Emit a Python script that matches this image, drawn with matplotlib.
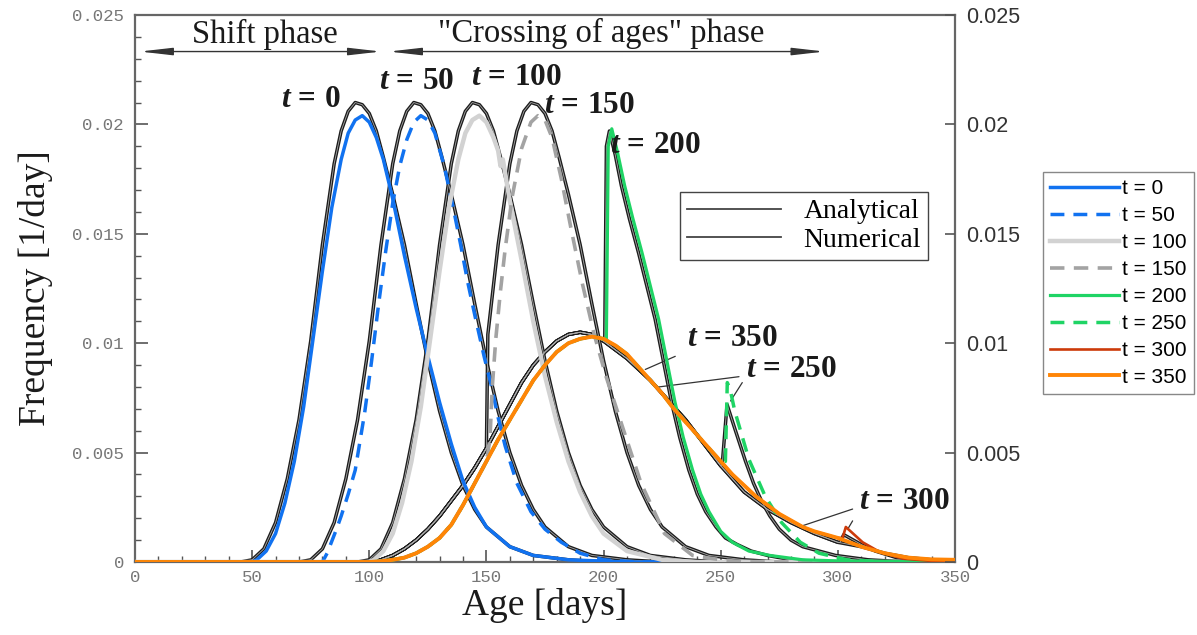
import matplotlib
matplotlib.use('Agg')
import matplotlib.pyplot as plt
import numpy as np
from matplotlib.ticker import MultipleLocator
from matplotlib.lines import Line2D

plt.rcParams['mathtext.fontset'] = 'custom'
plt.rcParams['mathtext.rm'] = 'Liberation Serif'
plt.rcParams['mathtext.it'] = 'Liberation Serif:italic'
plt.rcParams['mathtext.bf'] = 'Liberation Serif:bold'
plt.rcParams['mathtext.bfit'] = 'Liberation Serif:italic:bold'

# ---- data (age in days, frequency in 1/day) ----
# analytical curves
AGE_T0_AN = [0, 45, 50, 55, 60, 65, 70, 75, 80, 85, 88, 91, 94, 97, 100, 103, 106, 110, 115, 120,
             125, 130, 135, 140, 145, 150, 160, 170, 185, 200, 350]
FREQ_T0_AN = [0, 0, 0.0001, 0.0006, 0.0018, 0.0038, 0.0065, 0.0101, 0.0145, 0.0182, 0.0197, 0.0206,
              0.0210, 0.0209, 0.0205, 0.0197, 0.0185, 0.0168, 0.0145, 0.0118, 0.0092, 0.0069, 0.0050,
              0.0035, 0.0024, 0.0016, 0.0007, 0.0003, 0.0001, 0, 0]
AGE_T50_AN = [0, 70, 75, 80, 85, 90, 95, 100, 105, 110, 113, 116, 119, 122, 125, 128, 131, 135, 140, 145,
              150, 155, 160, 165, 170, 175, 185, 195, 210, 225, 350]
FREQ_T50_AN = [0, 0, 0.0001, 0.0006, 0.0018, 0.0038, 0.0065, 0.0101, 0.0145, 0.0182, 0.0197, 0.0206,
               0.0210, 0.0209, 0.0205, 0.0197, 0.0185, 0.0168, 0.0145, 0.0118, 0.0092, 0.0069, 0.0050,
               0.0035, 0.0024, 0.0016, 0.0007, 0.0003, 0.0001, 0, 0]
AGE_T100_AN = [0, 95, 100, 105, 110, 115, 120, 125, 130, 135, 138, 141, 144, 147, 150, 153, 156, 160, 165,
               170, 175, 180, 185, 190, 195, 200, 210, 220, 235, 250, 350]
FREQ_T100_AN = [0, 0, 0.0001, 0.0006, 0.0018, 0.0038, 0.0065, 0.0101, 0.0145, 0.0182, 0.0197, 0.0206,
                0.0210, 0.0209, 0.0205, 0.0197, 0.0185, 0.0168, 0.0145, 0.0118, 0.0092, 0.0069, 0.0050,
                0.0035, 0.0024, 0.0016, 0.0007, 0.0003, 0.0001, 0, 0]
# t = 350 analytical (later curves follow it below their own age t)
AGE_T350_AN = [0, 95, 100, 105, 110, 115, 120, 125, 130, 135, 140, 145, 150, 155, 160, 165, 170, 175,
               180, 185, 190, 195, 200, 205, 210, 215, 220, 225, 230, 235, 240, 245, 250, 255, 260, 265,
               270, 275, 280, 290, 300, 310, 320, 330, 340, 350]
FREQ_T350_AN = [0, 0, 0, 0.0001, 0.0003, 0.0006, 0.0010, 0.0015, 0.0021, 0.0028, 0.0035, 0.0043, 0.0052,
                0.0062, 0.0072, 0.0082, 0.0090, 0.0096, 0.0101, 0.0104, 0.0105, 0.0104, 0.0101, 0.0097,
                0.0093, 0.0088, 0.0083, 0.0077, 0.0071, 0.0065, 0.0058, 0.0051, 0.0044, 0.0038, 0.0032,
                0.0028, 0.0024, 0.0021, 0.0018, 0.0013, 0.0009, 0.0007, 0.0004, 0.0002, 0.0001, 0]
T150_AN_TAIL_AGE = [150.6, 155, 160, 163, 166, 169, 172, 175, 178, 181, 185, 190, 195, 200, 205, 210, 215,
                    220, 225, 235, 245, 260, 275, 350]
T150_AN_TAIL_FREQ = [0.0104, 0.0145, 0.0182, 0.0197, 0.0206, 0.0210, 0.0209, 0.0205, 0.0197, 0.0185,
                     0.0168, 0.0145, 0.0118, 0.0092, 0.0069, 0.0050, 0.0035, 0.0024, 0.0016, 0.0007,
                     0.0003, 0.0001, 0, 0]
T200_AN_TAIL_AGE = [200.5, 201.2, 202.5, 205, 207.6, 211, 215, 218.5, 222, 225.5, 229, 232.5, 236.4, 240,
                    243.6, 248, 252, 257, 263, 270, 280, 295, 350]
T200_AN_TAIL_FREQ = [0.0101, 0.0190, 0.0197, 0.0186, 0.0172, 0.0157, 0.0141, 0.0126, 0.0111, 0.0092,
                     0.0073, 0.0057, 0.0042, 0.0031, 0.0023, 0.0016, 0.0011, 0.0008, 0.0005, 0.0003,
                     0.0001, 0, 0]
T250_AN_TAIL_AGE = [250.6, 252.7, 256, 260.6, 264, 267.8, 271, 275, 280, 285, 292, 299, 313, 330, 350]
T250_AN_TAIL_FREQ = [0.0044, 0.0072, 0.0061, 0.0046, 0.0036, 0.0027, 0.0021, 0.0015, 0.0010, 0.0007,
                     0.0005, 0.0003, 0.0001, 0, 0]
T300_AN_TAIL_AGE = [301, 302.5, 305, 310, 316, 325, 335, 350]
T300_AN_TAIL_FREQ = [0.0009, 0.00125, 0.0011, 0.0008, 0.0005, 0.0002, 0.0001, 0]

# numerical curves
AGE_T0_NUM = [0, 50, 52, 56, 60, 64, 68, 72, 76, 80, 84, 88, 91, 94, 97, 100, 103, 106, 110, 115,
              120, 125, 130, 135, 140, 145, 150, 160, 170, 185, 210, 350]
FREQ_T0_NUM = [0, 0, 0.0001, 0.0005, 0.0013, 0.0027, 0.0046, 0.0071, 0.0102, 0.0133, 0.0162, 0.0184,
               0.0196, 0.0202, 0.0204, 0.0201, 0.0194, 0.0184, 0.0166, 0.0140, 0.0116, 0.0094, 0.0073,
               0.0054, 0.0037, 0.0025, 0.0016, 0.0007, 0.0003, 0.0001, 0, 0]
AGE_T50_NUM = [0, 80, 82, 86, 88, 91, 94, 98, 101, 104, 107, 110, 113, 116, 119, 122, 125, 128, 132, 136,
               139, 142, 145, 149, 152, 155, 158, 163, 169, 175, 182, 190, 200, 215, 350]
FREQ_T50_NUM = [0, 0, 0.0004, 0.0015, 0.0021, 0.0031, 0.0042, 0.0068, 0.0092, 0.0118, 0.0142, 0.0164,
                0.0181, 0.0193, 0.0201, 0.0204, 0.0202, 0.0196, 0.0181, 0.0161, 0.0145, 0.0128, 0.0113,
                0.0094, 0.0081, 0.0066, 0.0053, 0.0036, 0.0023, 0.0015, 0.0009, 0.0004, 0.0001, 0, 0]
AGE_T100_NUM = [0, 100, 102, 106, 110, 114, 118, 122, 126, 130, 134, 138, 141, 144, 147, 150, 153, 155,
                156, 157, 160, 165, 170, 175, 180, 185, 190, 195, 200, 210, 225, 240, 350]
FREQ_T100_NUM = [0, 0, 0.0001, 0.0005, 0.0013, 0.0027, 0.0046, 0.0071, 0.0102, 0.0133, 0.0162, 0.0184,
                 0.0196, 0.0202, 0.0204, 0.0201, 0.0194, 0.0188, 0.0181, 0.0184, 0.0165, 0.0138, 0.0110,
                 0.0085, 0.0064, 0.0046, 0.0032, 0.0021, 0.0013, 0.0005, 0.0001, 0, 0]
# t = 350 numerical (later numerical curves follow it below their own age t)
AGE_T350_NUM = [0, 100, 105, 110, 115, 120, 125, 130, 135, 140, 145, 150, 155, 160, 165, 170, 175, 180,
                185, 190, 195, 200, 205, 210, 215, 220, 225, 230, 235, 240, 245, 250, 255, 260, 265, 270,
                275, 280, 285, 290, 300, 310, 320, 330, 340, 350]
FREQ_T350_NUM = [0, 0, 0.00003, 0.0001, 0.0002, 0.0004, 0.0007, 0.0011, 0.0017, 0.0026, 0.0036, 0.0046,
                 0.0056, 0.0065, 0.0074, 0.0083, 0.0090, 0.0096, 0.0100, 0.0102, 0.0103, 0.0102, 0.0099,
                 0.0095, 0.0089, 0.0083, 0.0077, 0.0070, 0.0064, 0.0058, 0.0052, 0.0046, 0.0040, 0.0035,
                 0.0030, 0.0026, 0.0022, 0.0019, 0.0016, 0.0014, 0.0011, 0.0007, 0.0004, 0.0002, 0.00012,
                 0.0001]
T150_NUM_TAIL_AGE = [151.5, 152.5, 154, 156, 158, 161, 165, 169, 172, 175, 178, 182, 186, 191, 196, 201,
                     208, 216, 226, 238, 250, 260, 350]
T150_NUM_TAIL_FREQ = [0.0056, 0.0080, 0.0102, 0.0124, 0.0143, 0.0167, 0.0189, 0.0201, 0.0204, 0.0202,
                      0.0194, 0.0175, 0.0153, 0.0127, 0.0104, 0.0085, 0.0062, 0.0036, 0.0013, 0.0003,
                      0.0001, 0, 0]
T200_NUM_TAIL_AGE = [201.2, 202, 203.5, 206, 209, 212.5, 216.5, 220, 223.5, 227, 230.5, 234, 238, 241.5,
                     245, 250, 255, 262, 271, 285, 300, 350]
T200_NUM_TAIL_FREQ = [0.0102, 0.0190, 0.0198, 0.0187, 0.0172, 0.0157, 0.0141, 0.0126, 0.0111, 0.0092,
                      0.0073, 0.0057, 0.0042, 0.0031, 0.0023, 0.0014, 0.0009, 0.0005, 0.0003, 0.0001,
                      0.00005, 0]
T250_NUM_TAIL_AGE = [252, 252.8, 254, 256, 262, 269, 276, 284, 292, 304, 320, 350]
T250_NUM_TAIL_FREQ = [0.0046, 0.0082, 0.0079, 0.0069, 0.0047, 0.0030, 0.0018, 0.0009, 0.0004, 0.0001, 0, 0]
T300_NUM_TAIL_AGE = [302, 303.4, 307, 310.6, 318, 328, 340, 350]
T300_NUM_TAIL_FREQ = [0.0011, 0.0016, 0.00125, 0.0009, 0.00045, 0.00015, 0.00005, 0]

TIMES = [0, 50, 100, 150, 200, 250, 300, 350]
COLORS = ['#1172f0', '#1172f0', '#d2d2d2', '#a3a3a3', '#1fd465', '#1fd465', '#cc3a0a', '#ff8506']
DASHED = [False, True, False, True, False, True, False, False]
WIDTHS = [2.5, 2.5, 3.2, 2.6, 2.3, 2.5, 1.9, 2.8]

X_TICKS = [0, 50, 100, 150, 200, 250, 300, 350]
Y_TICKS = [0, 0.005, 0.01, 0.015, 0.02, 0.025]
Y_TICK_LABELS = ['0', '0.005', '0.01', '0.015', '0.02', '0.025']

# curve labels: (t, x, y) positions in data coordinates
LABELS = [(0, 75, 0.0212), (50, 120, 0.0220), (100, 163, 0.0222), (150, 194, 0.0209),
          (200, 222, 0.0191), (350, 255, 0.01025), (250, 280, 0.00885), (300, 328.5, 0.0028)]


def join(base_x, base_y, cut, tail_x, tail_y):
    bx = np.asarray(base_x, dtype=float)
    by = np.asarray(base_y, dtype=float)
    keep = bx <= cut
    return np.r_[bx[keep], tail_x], np.r_[by[keep], tail_y]


analytical = [
    (AGE_T0_AN, FREQ_T0_AN),
    (AGE_T50_AN, FREQ_T50_AN),
    (AGE_T100_AN, FREQ_T100_AN),
    join(AGE_T350_AN, FREQ_T350_AN, 150, T150_AN_TAIL_AGE, T150_AN_TAIL_FREQ),
    join(AGE_T350_AN, FREQ_T350_AN, 200, T200_AN_TAIL_AGE, T200_AN_TAIL_FREQ),
    join(AGE_T350_AN, FREQ_T350_AN, 250, T250_AN_TAIL_AGE, T250_AN_TAIL_FREQ),
    join(AGE_T350_AN, FREQ_T350_AN, 300, T300_AN_TAIL_AGE, T300_AN_TAIL_FREQ),
    (AGE_T350_AN, FREQ_T350_AN),
]
numerical = [
    (AGE_T0_NUM, FREQ_T0_NUM),
    (AGE_T50_NUM, FREQ_T50_NUM),
    (AGE_T100_NUM, FREQ_T100_NUM),
    join(AGE_T350_NUM, FREQ_T350_NUM, 150, T150_NUM_TAIL_AGE, T150_NUM_TAIL_FREQ),
    join(AGE_T350_NUM, FREQ_T350_NUM, 200, T200_NUM_TAIL_AGE, T200_NUM_TAIL_FREQ),
    join(AGE_T350_NUM, FREQ_T350_NUM, 250, T250_NUM_TAIL_AGE, T250_NUM_TAIL_FREQ),
    join(AGE_T350_NUM, FREQ_T350_NUM, 300, T300_NUM_TAIL_AGE, T300_NUM_TAIL_FREQ),
    (AGE_T350_NUM, FREQ_T350_NUM),
]

fig = plt.figure(figsize=(11.97, 6.35), dpi=100)
ax = fig.add_axes([135 / 1197, 1 - 562 / 635, 820 / 1197, 547 / 635])

for x, y in analytical:
    ax.plot(x, y, color='#1c1c1c', lw=2.5, zorder=2, solid_joinstyle='round')
    ax.plot(x, y, color='#a8a8a8', lw=0.6, zorder=2.1, solid_joinstyle='round')

handles = []
for i, (x, y) in enumerate(numerical):
    line, = ax.plot(x, y, color=COLORS[i], lw=WIDTHS[i], zorder=3 + i * 0.1,
                    label='t = %d' % TIMES[i], solid_joinstyle='round')
    if DASHED[i]:
        line.set_dashes((4, 2.6))
    handles.append(line)

ax.set_xlim(0, 350)
ax.set_ylim(0, 0.025)
ax.set_xticks(X_TICKS)
ax.set_xticklabels([str(v) for v in X_TICKS], family='Liberation Mono', fontsize=12.5, color='#777777')
ax.xaxis.set_minor_locator(MultipleLocator(10))
ax.set_yticks(Y_TICKS)
ax.set_yticklabels(Y_TICK_LABELS, family='Liberation Mono', fontsize=12.5, color='#777777')
ax.yaxis.set_minor_locator(MultipleLocator(0.001))
ax.tick_params(axis='both', which='major', direction='in', length=9, width=1.2, color='#555555')
ax.tick_params(axis='both', which='minor', direction='in', length=4, width=1.0, color='#555555')
ax.tick_params(axis='x', which='major', pad=6)
ax.tick_params(axis='y', which='major', pad=8)
ax.tick_params(top=False, right=False, which='both')
for s in ax.spines.values():
    s.set_color('#666666')
    s.set_linewidth(1.6)

ax.set_xlabel('Age [days]', family='Liberation Serif', fontsize=27, color='#1a1a1a', labelpad=2)
ax.set_ylabel('Frequency [1/day]', family='Liberation Serif', fontsize=27, color='#1a1a1a', labelpad=14)

ax2 = ax.twinx()
ax2.set_ylim(0, 0.025)
ax2.set_yticks(Y_TICKS)
ax2.set_yticklabels(Y_TICK_LABELS, family='Liberation Sans', fontsize=15.5, color='#333333')
ax2.tick_params(axis='y', direction='in', length=7, width=1.2, color='#555555', pad=8)
for s in ax2.spines.values():
    s.set_visible(False)

# curve labels
for t, x, y in LABELS:
    ax.text(x, y, r'$\mathbfit{t}\mathbf{\,=\,%d}$' % t, fontsize=22.5, ha='center', va='center',
            color='#1a1a1a', zorder=6)

# leader lines
leader = dict(arrowstyle='-', color='#333333', lw=0.9, shrinkA=0, shrinkB=0)
ax.annotate('', xy=(217.8, 0.0088), xytext=(230.6, 0.0094), arrowprops=leader)
ax.annotate('', xy=(223.5, 0.0080), xytext=(257.8, 0.00847), arrowprops=leader)
ax.annotate('', xy=(254.2, 0.00736), xytext=(259.2, 0.0082), arrowprops=leader)
ax.annotate('', xy=(285, 0.00166), xytext=(306.3, 0.00242), arrowprops=leader)
ax.annotate('', xy=(304.2, 0.0015), xytext=(306.3, 0.00188), arrowprops=leader)

# phase arrows
arr = dict(arrowstyle='<|-|>,head_length=1.4,head_width=0.16', color='#333333', lw=1.0,
           shrinkA=0, shrinkB=0, mutation_scale=14)
ax.annotate('', xy=(2.1, 0.02333), xytext=(105, 0.02333), arrowprops=arr)
ax.annotate('', xy=(108.4, 0.02333), xytext=(294.3, 0.02333), arrowprops=arr)
ax.text(55.3, 0.02373, 'Shift phase', family='Liberation Serif', fontsize=23.5, ha='center',
        va='baseline', color='#1a1a1a')
ax.text(199, 0.02377, '"Crossing of ages" phase', family='Liberation Serif', fontsize=23.5,
        ha='center', va='baseline', color='#1a1a1a')

# inner legend (line meaning)
kind_handles = [Line2D([], [], color='#444444', lw=1.3), Line2D([], [], color='#444444', lw=1.3)]
leg1 = ax.legend(kind_handles, ['Analytical', 'Numerical'], loc='upper left',
                 bbox_to_anchor=((680 - 135) / 820, (562 - 192) / 547), borderaxespad=0,
                 prop={'family': 'Liberation Serif', 'size': 20}, frameon=True, fancybox=False,
                 handlelength=3.4, handletextpad=0.8, labelspacing=0.12, borderpad=0.25,
                 edgecolor='#444444', framealpha=1)
leg1.get_frame().set_linewidth(1.0)
leg1.set_zorder(7)

# outer legend
leg2 = fig.legend(handles=handles, loc='upper left', bbox_to_anchor=(1043 / 1197, 1 - 172 / 635),
                  borderaxespad=0, prop={'family': 'Liberation Sans', 'size': 15},
                  frameon=True, fancybox=False, handlelength=3.3, handletextpad=0.15,
                  labelspacing=0.38, borderpad=0.35, edgecolor='#888888', framealpha=1)
leg2.get_frame().set_linewidth(1.0)

fig.savefig('out.png', dpi=100)
